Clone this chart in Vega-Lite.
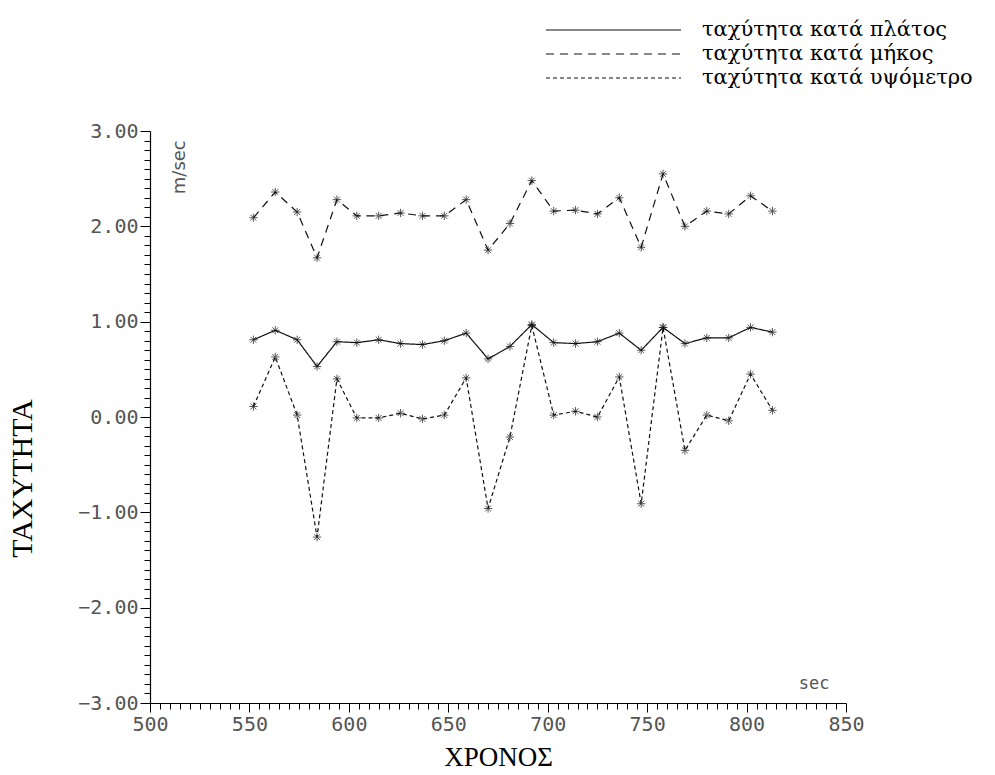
{
  "$schema": "https://vega.github.io/schema/vega-lite/v6.json",
  "width": 696,
  "height": 572,
  "autosize": {"type": "none"},
  "padding": {"left": 150, "top": 131, "right": 149, "bottom": 72},
  "background": "white",
  "config": {
    "view": {"stroke": null},
    "axis": {
      "domainColor": "black",
      "domainWidth": 1.2,
      "tickColor": "black",
      "tickWidth": 1,
      "grid": false,
      "labelFont": "DejaVu Sans Mono",
      "labelFontSize": 20,
      "labelColor": "#555555",
      "titleFont": "Liberation Serif",
      "titleFontWeight": "normal",
      "titleFontSize": 27,
      "titleColor": "black",
      "labelOverlap": false,
      "labelBound": false,
      "labelFlush": false
    }
  },
  "data": {
    "values": [
      {"t": 552, "series": "ταχύτητα κατά πλάτος", "v": 0.81},
      {"t": 563, "series": "ταχύτητα κατά πλάτος", "v": 0.91},
      {"t": 574, "series": "ταχύτητα κατά πλάτος", "v": 0.81},
      {"t": 584, "series": "ταχύτητα κατά πλάτος", "v": 0.53},
      {"t": 594, "series": "ταχύτητα κατά πλάτος", "v": 0.79},
      {"t": 604, "series": "ταχύτητα κατά πλάτος", "v": 0.78},
      {"t": 615, "series": "ταχύτητα κατά πλάτος", "v": 0.81},
      {"t": 626, "series": "ταχύτητα κατά πλάτος", "v": 0.77},
      {"t": 637, "series": "ταχύτητα κατά πλάτος", "v": 0.76},
      {"t": 648, "series": "ταχύτητα κατά πλάτος", "v": 0.80},
      {"t": 659, "series": "ταχύτητα κατά πλάτος", "v": 0.88},
      {"t": 670, "series": "ταχύτητα κατά πλάτος", "v": 0.61},
      {"t": 681, "series": "ταχύτητα κατά πλάτος", "v": 0.74},
      {"t": 692, "series": "ταχύτητα κατά πλάτος", "v": 0.97},
      {"t": 703, "series": "ταχύτητα κατά πλάτος", "v": 0.78},
      {"t": 714, "series": "ταχύτητα κατά πλάτος", "v": 0.77},
      {"t": 725, "series": "ταχύτητα κατά πλάτος", "v": 0.79},
      {"t": 736, "series": "ταχύτητα κατά πλάτος", "v": 0.88},
      {"t": 747, "series": "ταχύτητα κατά πλάτος", "v": 0.70},
      {"t": 758, "series": "ταχύτητα κατά πλάτος", "v": 0.94},
      {"t": 769, "series": "ταχύτητα κατά πλάτος", "v": 0.77},
      {"t": 780, "series": "ταχύτητα κατά πλάτος", "v": 0.83},
      {"t": 791, "series": "ταχύτητα κατά πλάτος", "v": 0.83},
      {"t": 802, "series": "ταχύτητα κατά πλάτος", "v": 0.94},
      {"t": 813, "series": "ταχύτητα κατά πλάτος", "v": 0.89},

      {"t": 552, "series": "ταχύτητα κατά μήκος", "v": 2.09},
      {"t": 563, "series": "ταχύτητα κατά μήκος", "v": 2.36},
      {"t": 574, "series": "ταχύτητα κατά μήκος", "v": 2.15},
      {"t": 584, "series": "ταχύτητα κατά μήκος", "v": 1.67},
      {"t": 594, "series": "ταχύτητα κατά μήκος", "v": 2.28},
      {"t": 604, "series": "ταχύτητα κατά μήκος", "v": 2.11},
      {"t": 615, "series": "ταχύτητα κατά μήκος", "v": 2.11},
      {"t": 626, "series": "ταχύτητα κατά μήκος", "v": 2.14},
      {"t": 637, "series": "ταχύτητα κατά μήκος", "v": 2.11},
      {"t": 648, "series": "ταχύτητα κατά μήκος", "v": 2.11},
      {"t": 659, "series": "ταχύτητα κατά μήκος", "v": 2.28},
      {"t": 670, "series": "ταχύτητα κατά μήκος", "v": 1.75},
      {"t": 681, "series": "ταχύτητα κατά μήκος", "v": 2.03},
      {"t": 692, "series": "ταχύτητα κατά μήκος", "v": 2.48},
      {"t": 703, "series": "ταχύτητα κατά μήκος", "v": 2.16},
      {"t": 714, "series": "ταχύτητα κατά μήκος", "v": 2.17},
      {"t": 725, "series": "ταχύτητα κατά μήκος", "v": 2.13},
      {"t": 736, "series": "ταχύτητα κατά μήκος", "v": 2.30},
      {"t": 747, "series": "ταχύτητα κατά μήκος", "v": 1.78},
      {"t": 758, "series": "ταχύτητα κατά μήκος", "v": 2.55},
      {"t": 769, "series": "ταχύτητα κατά μήκος", "v": 2.00},
      {"t": 780, "series": "ταχύτητα κατά μήκος", "v": 2.16},
      {"t": 791, "series": "ταχύτητα κατά μήκος", "v": 2.13},
      {"t": 802, "series": "ταχύτητα κατά μήκος", "v": 2.32},
      {"t": 813, "series": "ταχύτητα κατά μήκος", "v": 2.16},

      {"t": 552, "series": "ταχύτητα κατά υψόμετρο", "v": 0.11},
      {"t": 563, "series": "ταχύτητα κατά υψόμετρο", "v": 0.63},
      {"t": 574, "series": "ταχύτητα κατά υψόμετρο", "v": 0.02},
      {"t": 584, "series": "ταχύτητα κατά υψόμετρο", "v": -1.26},
      {"t": 594, "series": "ταχύτητα κατά υψόμετρο", "v": 0.40},
      {"t": 604, "series": "ταχύτητα κατά υψόμετρο", "v": -0.01},
      {"t": 615, "series": "ταχύτητα κατά υψόμετρο", "v": -0.01},
      {"t": 626, "series": "ταχύτητα κατά υψόμετρο", "v": 0.04},
      {"t": 637, "series": "ταχύτητα κατά υψόμετρο", "v": -0.02},
      {"t": 648, "series": "ταχύτητα κατά υψόμετρο", "v": 0.02},
      {"t": 659, "series": "ταχύτητα κατά υψόμετρο", "v": 0.41},
      {"t": 670, "series": "ταχύτητα κατά υψόμετρο", "v": -0.96},
      {"t": 681, "series": "ταχύτητα κατά υψόμετρο", "v": -0.21},
      {"t": 692, "series": "ταχύτητα κατά υψόμετρο", "v": 0.96},
      {"t": 703, "series": "ταχύτητα κατά υψόμετρο", "v": 0.02},
      {"t": 714, "series": "ταχύτητα κατά υψόμετρο", "v": 0.06},
      {"t": 725, "series": "ταχύτητα κατά υψόμετρο", "v": 0.00},
      {"t": 736, "series": "ταχύτητα κατά υψόμετρο", "v": 0.42},
      {"t": 747, "series": "ταχύτητα κατά υψόμετρο", "v": -0.91},
      {"t": 758, "series": "ταχύτητα κατά υψόμετρο", "v": 0.94},
      {"t": 769, "series": "ταχύτητα κατά υψόμετρο", "v": -0.35},
      {"t": 780, "series": "ταχύτητα κατά υψόμετρο", "v": 0.02},
      {"t": 791, "series": "ταχύτητα κατά υψόμετρο", "v": -0.04},
      {"t": 802, "series": "ταχύτητα κατά υψόμετρο", "v": 0.45},
      {"t": 813, "series": "ταχύτητα κατά υψόμετρο", "v": 0.07}
    ]
  },
  "layer": [
    {
      "mark": {"type": "line", "color": "#111111", "strokeWidth": 1.2},
      "encoding": {
        "x": {
          "field": "t",
          "type": "quantitative",
          "scale": {"domain": [500, 850], "nice": false, "zero": false},
          "axis": {
            "title": "ΧΡΟΝΟΣ",
            "titlePadding": 10,
            "tickCount": 1000,
            "values": [500,505,510,515,520,525,530,535,540,545,550,555,560,565,570,575,580,585,590,595,600,605,610,615,620,625,630,635,640,645,650,655,660,665,670,675,680,685,690,695,700,705,710,715,720,725,730,735,740,745,750,755,760,765,770,775,780,785,790,795,800,805,810,815,820,825,830,835,840,845,850],
            "labelExpr": "datum.value % 50 === 0 ? format(datum.value, 'd') : ''",
            "tickSize": {"condition": {"test": "datum.value % 50 === 0", "value": 9}, "value": 6},
            "labelPadding": 2
          }
        },
        "y": {
          "field": "v",
          "type": "quantitative",
          "scale": {"domain": [-3, 3], "nice": false, "zero": false},
          "axis": {
            "title": "ΤΑΧΥΤΗΤΑ",
            "titleFontSize": 30,
            "titleY": 347,
            "titlePadding": 40,
            "tickCount": 1000,
            "values": [-3,-2.9,-2.8,-2.7,-2.6,-2.5,-2.4,-2.3,-2.2,-2.1,-2,-1.9,-1.8,-1.7,-1.6,-1.5,-1.4,-1.3,-1.2,-1.1,-1,-0.9,-0.8,-0.7,-0.6,-0.5,-0.4,-0.3,-0.2,-0.1,0,0.1,0.2,0.3,0.4,0.5,0.6,0.7,0.8,0.9,1,1.1,1.2,1.3,1.4,1.5,1.6,1.7,1.8,1.9,2,2.1,2.2,2.3,2.4,2.5,2.6,2.7,2.8,2.9,3],
            "labelExpr": "abs(datum.value % 1) < 0.001 ? format(datum.value, '.2f') : ''",
            "tickSize": {"condition": {"test": "abs(datum.value % 1) < 0.001", "value": 10}, "value": 6},
            "labelPadding": 2
          }
        },
        "strokeDash": {
          "field": "series",
          "type": "nominal",
          "scale": {
            "domain": ["ταχύτητα κατά πλάτος", "ταχύτητα κατά μήκος", "ταχύτητα κατά υψόμετρο"],
            "range": [[1, 0], [8, 6], [4, 3]]
          },
          "legend": {
            "title": null,
            "orient": "none",
            "legendX": 452.5,
            "legendY": -112,
            "symbolType": "M-6.75,0H6.75",
            "symbolSize": 400,
            "symbolStrokeWidth": 1.2,
            "symbolStrokeColor": "#111111",
            "symbolFillColor": "transparent",
            "labelFont": "DejaVu Serif",
            "labelFontSize": 21,
            "labelColor": "black",
            "labelOffset": 77.5,
            "labelLimit": 400,
            "rowPadding": 3
          }
        }
      }
    },
    {
      "mark": {
        "type": "point",
        "shape": "M-1,0H1M0,-1V1M-0.7,-0.7L0.7,0.7M-0.7,0.7L0.7,-0.7",
        "filled": false,
        "size": 70,
        "color": "#111111",
        "strokeWidth": 1
      },
      "encoding": {
        "x": {"field": "t", "type": "quantitative"},
        "y": {"field": "v", "type": "quantitative"},
        "detail": {"field": "series"}
      }
    },
    {
      "data": {"values": [{}]},
      "mark": {"type": "text", "angle": 270, "font": "DejaVu Sans", "fontSize": 18, "color": "#555555", "align": "center", "baseline": "middle"},
      "encoding": {
        "x": {"datum": 515, "type": "quantitative"},
        "y": {"datum": 2.62, "type": "quantitative"},
        "text": {"value": "m/sec"}
      }
    },
    {
      "data": {"values": [{}]},
      "mark": {"type": "text", "font": "DejaVu Sans Mono", "fontSize": 17, "color": "#555555", "align": "center", "baseline": "middle"},
      "encoding": {
        "x": {"datum": 834, "type": "quantitative"},
        "y": {"datum": -2.8, "type": "quantitative"},
        "text": {"value": "sec"}
      }
    }
  ]
}
